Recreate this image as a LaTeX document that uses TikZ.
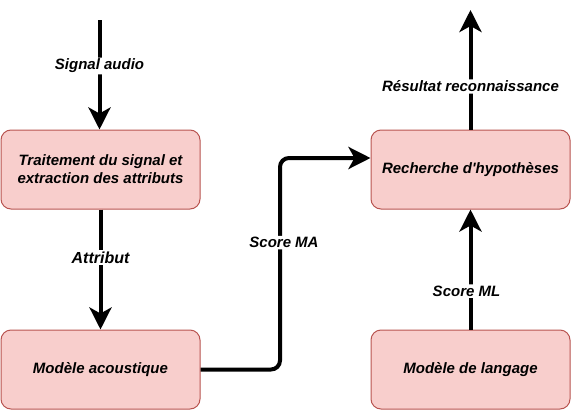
\documentclass[tikz,border=0pt]{standalone}
\usepackage{fontspec}
\setmainfont{Liberation Sans}
\usetikzlibrary{arrows.meta,calc}
\definecolor{boxfill}{HTML}{F8CECC}
\definecolor{boxdraw}{HTML}{B85450}
\tikzset{
  procbox/.style={draw=boxdraw, fill=boxfill, line width=1pt, rounded corners=10pt,
    minimum width=199pt, minimum height=79pt, align=center, inner sep=2pt,
    font=\fontsize{15}{17.8}\selectfont\bfseries\itshape},
  flow/.style={line width=4pt, -{Stealth[length=22pt,width=22pt,inset=6pt]}, rounded corners=9pt},
  lbl/.style={fill=white, inner sep=1.5pt, font=\fontsize{15}{17.8}\selectfont\bfseries\itshape},
}
\begin{document}
\begin{tikzpicture}[x=1pt,y=-1pt]
\useasboundingbox (0,0) rectangle (571,410);
\node[procbox] (b1) at (100.5,169.5) {Traitement du signal et\\extraction des attributs};
\node[procbox] (b2) at (100.5,369.5) {Modèle acoustique};
\node[procbox] (b3) at (470.5,169.5) {Recherche d\textquotesingle hypothèses};
\node[procbox] (b4) at (470.5,369.5) {Modèle de langage};
\coordinate (src) at (99.5,20);
\coordinate (out) at (470.5,10);
\draw[flow] (src) -- node[lbl, pos=0.42]{Signal audio} (src |- b1.north);
\draw[flow] (b1.south) -- node[lbl, pos=0.4, font=\fontsize{16}{19}\selectfont\bfseries\itshape]{Attribut} (b2.north);
\draw[flow] (b2.east) -- (280,369.5) -- node[lbl, pos=0.6, xshift=4pt]{Score MA} (280,158) -- ([yshift=11.5pt]b3.west);
\draw[flow] (b4.north) -- node[lbl, pos=0.32, xshift=-4pt]{Score ML} (b3.south);
\draw[flow] (b3.north) -- node[lbl, pos=0.36]{Résultat reconnaissance} (out);
\end{tikzpicture}
\end{document}
